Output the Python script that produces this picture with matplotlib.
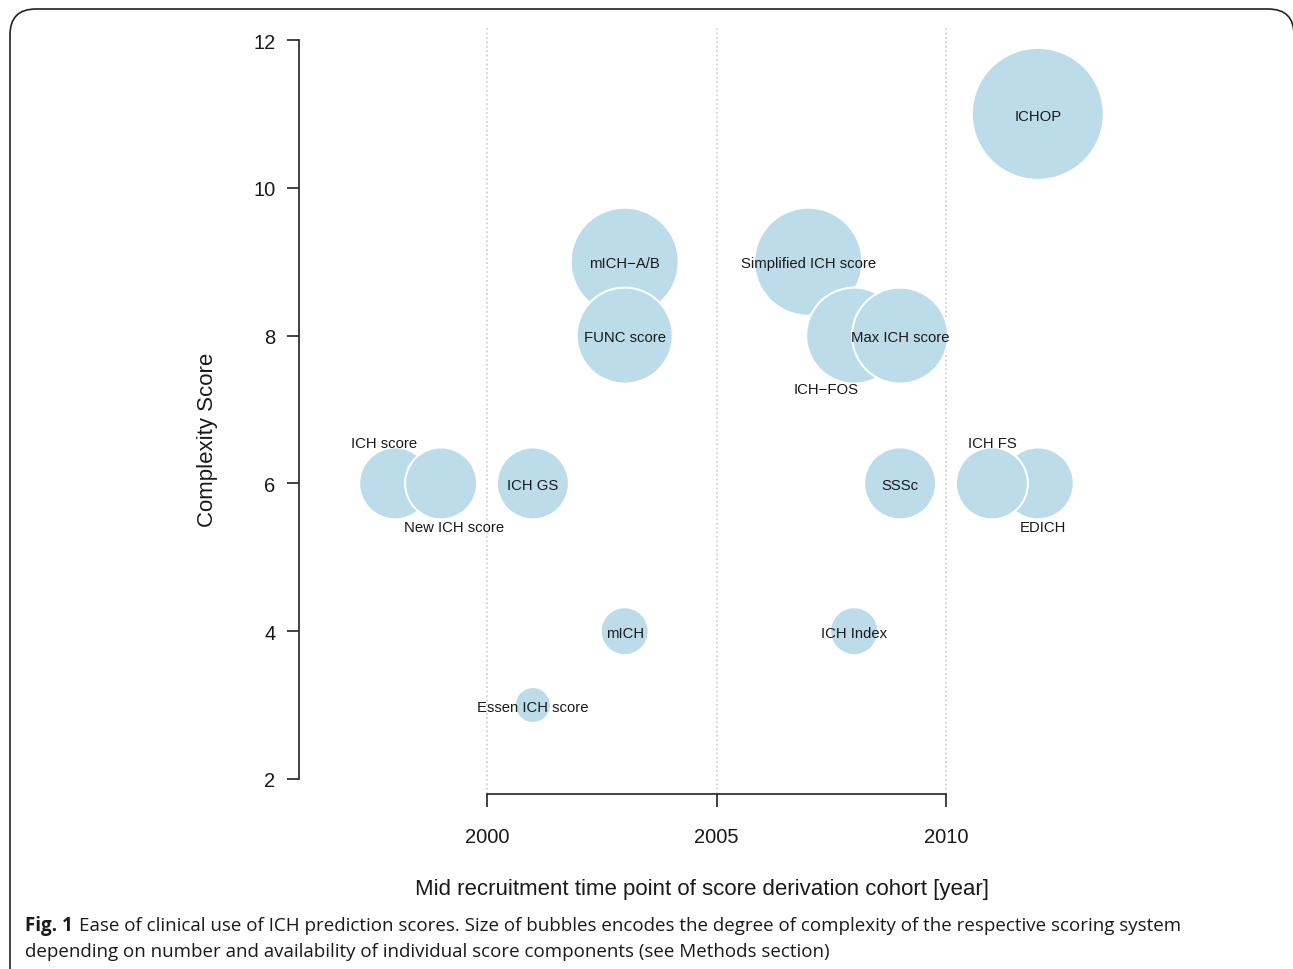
import numpy as np
import matplotlib.pyplot as plt
from matplotlib.patches import FancyBboxPatch

# ICH prediction scores: mid recruitment year and complexity score
names = ['ICH score', 'New ICH score', 'ICH GS', 'Essen ICH score', 'mICH',
         'mICH\u2212A/B', 'FUNC score', 'Simplified ICH score', 'ICH\u2212FOS',
         'Max ICH score', 'ICH Index', 'SSSc', 'EDICH', 'ICH FS', 'ICHOP']
years = [1998, 1999, 2001, 2001, 2003, 2003, 2003, 2007, 2008, 2009, 2008, 2009, 2012, 2011, 2012]
scores = [6, 6, 6, 3, 4, 9, 8, 9, 8, 8, 4, 6, 6, 6, 11]

x_ticks = [2000, 2005, 2010]
y_ticks = [2, 4, 6, 8, 10, 12]

# label offsets (points) for overlapping bubbles
label_offsets = {'ICH score': (-8, 30), 'New ICH score': (9, -30),
                 'ICH\u2212FOS': (-20, -37), 'ICH FS': (0, 30), 'EDICH': (4, -30)}

plt.rcParams['font.family'] = ['Liberation Sans', 'DejaVu Sans']

W, H = 1293, 970
fig = plt.figure(figsize=(W / 100, H / 100), dpi=100)

# rounded frame around the figure
frame = FancyBboxPatch((10 / W, -0.05), (W - 9) / W, 1.05 - 10 / H,
                       boxstyle='round,pad=0,rounding_size=0.02', transform=fig.transFigure,
                       fill=False, edgecolor='#222222', linewidth=1.2, mutation_aspect=W / H)
fig.patches.append(frame)

# axes in pixel layout
left, right, bottom, top = 299, 1105, 795, 28
ax = fig.add_axes([left / W, 1 - bottom / H, (right - left) / W, (bottom - top) / H])
ax.patch.set_alpha(0)

px_year = (946 - 487) / 10
px_unit = (780 - 41) / 10
ax.set_xlim(2000 - (487 - left) / px_year, 2000 + (right - 487) / px_year)
ax.set_ylim(2 - (bottom - 780) / px_unit, 12 + (41 - top) / px_unit)

for xv in x_ticks:
    ax.axvline(xv, color='#cccccc', linestyle=':', linewidth=1.2, zorder=0)

# bubbles: radius in pixels ~ 6 * score
sizes = [(12 * s * 0.72) ** 2 for s in scores]
ax.scatter(years, scores, s=sizes, color='#bcdce9', edgecolors='white', linewidths=1.5,
           zorder=2, clip_on=False)

for n, xv, yv in zip(names, years, scores):
    dx, dy = label_offsets.get(n, (0, 0))
    ax.annotate(n, (xv, yv), xytext=(dx, dy - 1.2), textcoords='offset points',
                ha='center', va='center', fontsize=10.7, color='#1a1a1a', zorder=3)

for s in ['top', 'right']:
    ax.spines[s].set_visible(False)
ax.spines['left'].set_bounds(2, 12)
ax.spines['bottom'].set_bounds(2000, 2010)
for s in ['left', 'bottom']:
    ax.spines[s].set_linewidth(1.2)
    ax.spines[s].set_color('#222222')

ax.set_xticks(x_ticks)
ax.set_yticks(y_ticks)
ax.tick_params(direction='out', length=9, width=1.2, color='#222222', labelsize=14.5,
               labelcolor='#1a1a1a')
ax.tick_params(axis='x', pad=15)
ax.tick_params(axis='y', pad=8)

ax.set_xlabel('Mid recruitment time point of score derivation cohort [year]', fontsize=16,
              color='#1a1a1a')
ax.xaxis.set_label_coords(0.5, -(890 - bottom) / (bottom - top))
ax.xaxis.label.set_va('center')
ax.set_ylabel('Complexity Score', fontsize=16, color='#1a1a1a')
ax.yaxis.set_label_coords(-(left - 207) / (right - left), (bottom - 440) / (bottom - top))
ax.yaxis.label.set_va('center')

# caption
cap_font = ['Open Sans', 'DejaVu Sans']
cap_size = 13.5
t1 = fig.text(25 / W, 1 - 926 / H, 'Fig. 1', fontsize=cap_size, fontweight='bold',
              family=cap_font, va='center', color='#1a1a1a')
fig.canvas.draw()
bb = t1.get_window_extent()
fig.text((bb.x1 + 6) / W, 1 - 926 / H,
         'Ease of clinical use of ICH prediction scores. Size of bubbles encodes the degree of '
         'complexity of the respective scoring system',
         fontsize=cap_size, family=cap_font, va='center', color='#1a1a1a')
fig.text(25 / W, 1 - 952 / H,
         'depending on number and availability of individual score components (see Methods section)',
         fontsize=cap_size, family=cap_font, va='center', color='#1a1a1a')

fig.savefig('out.png', dpi=100)
